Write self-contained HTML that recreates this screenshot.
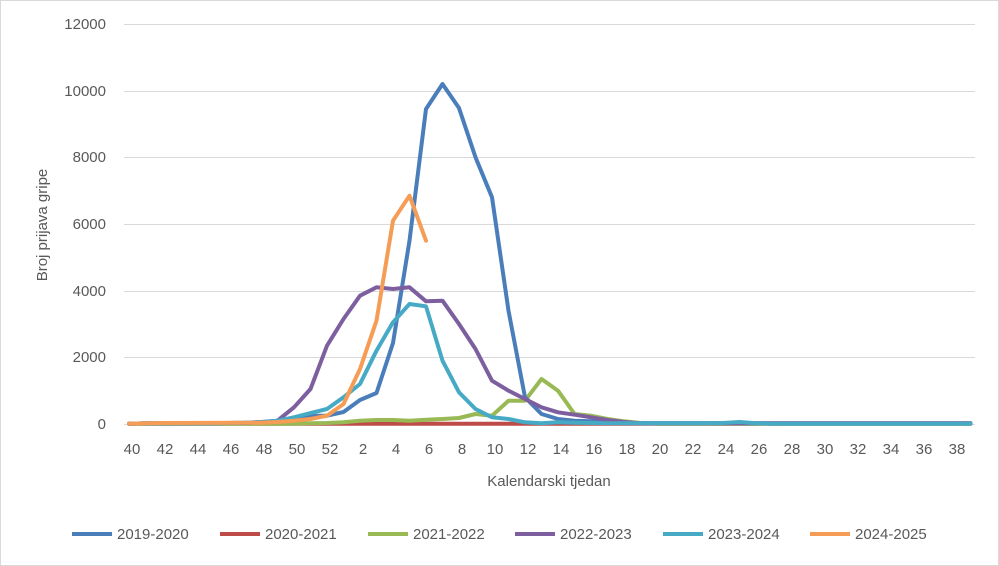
<!DOCTYPE html>
<html><head><meta charset="utf-8"><style>
body{margin:0;background:#fff}
svg{display:block;font-family:"Liberation Sans",sans-serif}
</style></head><body>
<svg width="999" height="566" viewBox="0 0 999 566" xmlns="http://www.w3.org/2000/svg">
<rect x="0.5" y="0.5" width="998" height="565" fill="#fff" stroke="#d9d9d9"/>
<g stroke="#d9d9d9" stroke-width="1">
<line x1="124" x2="975" y1="24.5" y2="24.5"/>
<line x1="124" x2="975" y1="91.5" y2="91.5"/>
<line x1="124" x2="975" y1="157.5" y2="157.5"/>
<line x1="124" x2="975" y1="224.5" y2="224.5"/>
<line x1="124" x2="975" y1="291.5" y2="291.5"/>
<line x1="124" x2="975" y1="357.5" y2="357.5"/>
<line x1="124" x2="975" y1="424.5" y2="424.5"/>
</g>
<g font-size="15" fill="#595959" text-anchor="end">
<text x="106" y="29">12000</text>
<text x="106" y="96">10000</text>
<text x="106" y="162">8000</text>
<text x="106" y="229">6000</text>
<text x="106" y="296">4000</text>
<text x="106" y="362">2000</text>
<text x="106" y="429">0</text>
</g>
<g font-size="15" fill="#595959" text-anchor="middle">
<text x="132" y="454">40</text><text x="165" y="454">42</text><text x="198" y="454">44</text><text x="231" y="454">46</text><text x="264" y="454">48</text><text x="297" y="454">50</text><text x="330" y="454">52</text><text x="363" y="454">2</text><text x="396" y="454">4</text><text x="429" y="454">6</text><text x="462" y="454">8</text><text x="495" y="454">10</text><text x="528" y="454">12</text><text x="561" y="454">14</text><text x="594" y="454">16</text><text x="627" y="454">18</text><text x="660" y="454">20</text><text x="693" y="454">22</text><text x="726" y="454">24</text><text x="759" y="454">26</text><text x="792" y="454">28</text><text x="825" y="454">30</text><text x="858" y="454">32</text><text x="891" y="454">34</text><text x="924" y="454">36</text><text x="957" y="454">38</text>
</g>
<text x="549" y="486" font-size="15" fill="#595959" text-anchor="middle">Kalendarski tjedan</text>
<text transform="translate(47,225) rotate(-90)" font-size="15" fill="#595959" text-anchor="middle">Broj prijava gripe</text>
<g fill="none" stroke-width="4" stroke-linejoin="round" stroke-linecap="round">
<polyline stroke="#be4b48" points="129,423.7 970.5,423.7"/>
<polyline stroke="#98b954" points="129,423.7 294,423.7 310.5,423.3 327,423 343.5,422.3 360,420.7 376.5,420 393,420 409.5,420.7 426,419.7 442.5,419 459,418 475.5,414 492,415.7 508.5,400.7 525,400.7 541.5,379 558,390.7 574.5,414 591,415.7 607.5,419 624,421.3 640.5,423 657,423.7 970.5,423.7"/>
<polyline stroke="#4a7ebb" points="129,423.7 145.5,423.3 228,423 244.5,423 261,422.3 277.5,420.7 294,419 310.5,415.7 327,415.7 343.5,412 360,400 376.5,393 393,343 409.5,240.7 426,109 442.5,84 459,108 475.5,157.3 492,197.3 508.5,310.7 525,397.3 541.5,414 558,419 574.5,420.7 591,421.3 607.5,422.3 624,423 640.5,423.3 970.5,423.3"/>
<polyline stroke="#7d5fa0" points="129,423.7 145.5,423.3 211.5,423.3 228,423 244.5,422.7 261,422 277.5,420.7 294,407.3 310.5,389 327,345.7 343.5,319 360,295.7 376.5,287.3 393,289 409.5,287.3 426,301.3 442.5,300.7 459,324 475.5,349 492,380.7 508.5,390.7 525,399 541.5,407.3 558,412.3 574.5,414.7 591,417.3 607.5,420 624,422 640.5,423.3 970.5,423.3"/>
<polyline stroke="#46aac5" points="129,423.7 145.5,423.3 211.5,423.3 228,423 244.5,422.7 261,422.3 277.5,420.7 294,417.3 310.5,413 327,409 343.5,397.3 360,384 376.5,350.7 393,322.3 409.5,304 426,306.3 442.5,360.7 459,392.3 475.5,409 492,417.3 508.5,419 525,422.3 541.5,423.3 558,422.3 574.5,422.7 591,423 607.5,423.3 706.5,423.3 723,423 739.5,422 756,423.3 772.5,423.7 970.5,423.7"/>
<polyline stroke="#f59d56" points="129,423.7 145.5,423.3 162,423 244.5,422.7 261,422.7 277.5,422 294,420.7 310.5,419 327,415.7 343.5,404 360,369 376.5,320.7 393,220.7 409.5,195.7 426,240.7"/>
</g>
<g font-size="15" fill="#595959">
<line x1="72" x2="112" y1="534" y2="534" stroke="#4a7ebb" stroke-width="4"/><text x="117" y="539">2019-2020</text>
<line x1="220" x2="260" y1="534" y2="534" stroke="#be4b48" stroke-width="4"/><text x="265" y="539">2020-2021</text>
<line x1="368" x2="408" y1="534" y2="534" stroke="#98b954" stroke-width="4"/><text x="413" y="539">2021-2022</text>
<line x1="515" x2="555" y1="534" y2="534" stroke="#7d5fa0" stroke-width="4"/><text x="560" y="539">2022-2023</text>
<line x1="663" x2="703" y1="534" y2="534" stroke="#46aac5" stroke-width="4"/><text x="708" y="539">2023-2024</text>
<line x1="810" x2="850" y1="534" y2="534" stroke="#f59d56" stroke-width="4"/><text x="855" y="539">2024-2025</text>
</g>
</svg>
</body></html>
